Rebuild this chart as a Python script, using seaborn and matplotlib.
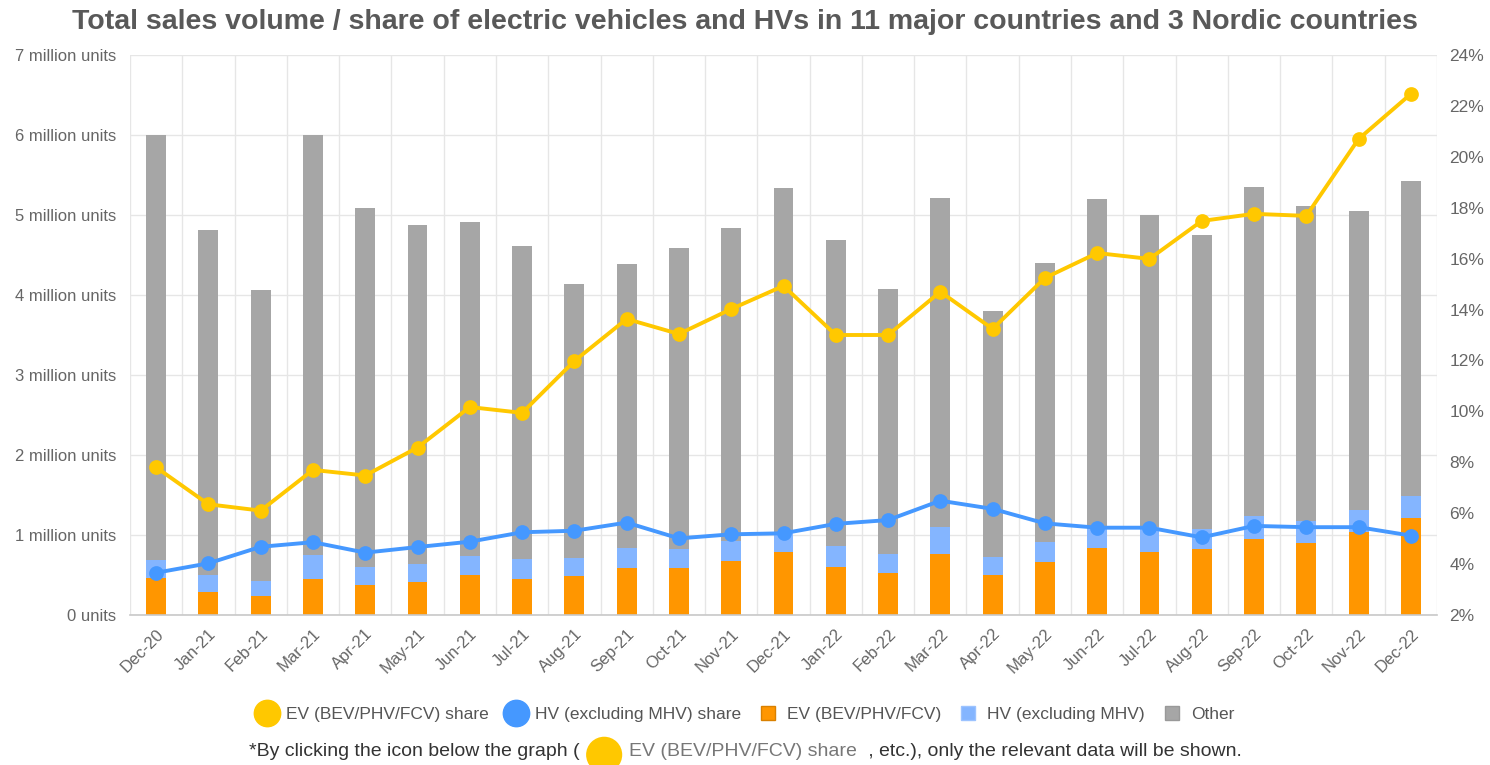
import numpy as np
import pandas as pd
import matplotlib
matplotlib.use("Agg")
import matplotlib.pyplot as plt
import seaborn as sns
from matplotlib.lines import Line2D
from matplotlib.offsetbox import TextArea, DrawingArea, HPacker, AnchoredOffsetbox
from matplotlib.patches import Circle

# ---------------- data ----------------
months = ["Dec-20", "Jan-21", "Feb-21", "Mar-21", "Apr-21", "May-21", "Jun-21",
          "Jul-21", "Aug-21", "Sep-21", "Oct-21", "Nov-21", "Dec-21", "Jan-22",
          "Feb-22", "Mar-22", "Apr-22", "May-22", "Jun-22", "Jul-22", "Aug-22",
          "Sep-22", "Oct-22", "Nov-22", "Dec-22"]
# million units
ev_units = [0.46, 0.29, 0.24, 0.45, 0.375, 0.41, 0.50, 0.45, 0.49, 0.59, 0.59, 0.67, 0.79,
            0.60, 0.52, 0.76, 0.50, 0.66, 0.84, 0.79, 0.82, 0.95, 0.90, 1.04, 1.21]
hv_units = [0.23, 0.21, 0.19, 0.30, 0.225, 0.23, 0.24, 0.25, 0.22, 0.25, 0.23, 0.25, 0.25,
            0.26, 0.24, 0.34, 0.23, 0.25, 0.24, 0.31, 0.25, 0.29, 0.27, 0.27, 0.28]
other_units = [5.31, 4.31, 3.63, 5.25, 4.49, 4.24, 4.17, 3.91, 3.43, 3.55, 3.77, 3.92, 4.30,
               3.83, 3.32, 4.11, 3.07, 3.49, 4.12, 3.90, 3.68, 4.11, 3.94, 3.74, 3.94]
# percent
ev_share = [7.8, 6.35, 6.1, 7.7, 7.48, 8.58, 10.17, 9.94, 11.98, 13.63, 13.04, 14.02, 14.93,
            13.0, 13.0, 14.7, 13.24, 15.24, 16.22, 15.99, 17.48, 17.76, 17.68, 20.7, 22.47]
hv_share = [3.66, 4.03, 4.68, 4.86, 4.45, 4.67, 4.88, 5.25, 5.31, 5.63, 5.01, 5.17, 5.21,
            5.58, 5.73, 6.49, 6.17, 5.6, 5.43, 5.43, 5.05, 5.5, 5.45, 5.45, 5.12]

left_ticks = [0, 1, 2, 3, 4, 5, 6, 7]
left_tick_labels = ["0 units", "1 million units", "2 million units", "3 million units",
                    "4 million units", "5 million units", "6 million units", "7 million units"]
right_ticks = [2, 4, 6, 8, 10, 12, 14, 16, 18, 20, 22, 24]
right_tick_labels = [f"{v}%" for v in right_ticks]

title = "Total sales volume / share of electric vehicles and HVs in 11 major countries and 3 Nordic countries"
legend_labels = ["EV (BEV/PHV/FCV) share", "HV (excluding MHV) share", "EV (BEV/PHV/FCV)",
                 "HV (excluding MHV)", "Other"]

# ---------------- style ----------------
ORANGE = "#FF9600"
LBLUE = "#84B5FF"
GREY = "#A6A6A6"
YELLOW = "#FFC800"
BLUE = "#4598FF"
TXT = "#666666"

sns.set_theme(style="white")
plt.rcParams['font.family'] = ['Liberation Sans', 'DejaVu Sans']

fig = plt.figure(figsize=(14.9, 7.65), dpi=100)
ax = fig.add_axes([130 / 1490, 1 - 615 / 765, (1437 - 130) / 1490, (615 - 55) / 765])

df = pd.DataFrame({"month": months, "ev": ev_units, "hv": hv_units, "other": other_units})
df["ev_hv"] = df["ev"] + df["hv"]
df["total"] = df["ev_hv"] + df["other"]

bar_kw = dict(x="month", width=0.38, saturation=1, errorbar=None, linewidth=0, ax=ax, order=months)
sns.barplot(data=df, y="total", color=GREY, **bar_kw)
sns.barplot(data=df, y="ev_hv", color=LBLUE, **bar_kw)
sns.barplot(data=df, y="ev", color=ORANGE, **bar_kw)

ax2 = ax.twinx()
sns.pointplot(x=months, y=ev_share, color=YELLOW, ax=ax2, errorbar=None,
              markersize=8.5, linewidth=2.8, order=months)
sns.pointplot(x=months, y=hv_share, color=BLUE, ax=ax2, errorbar=None,
              markersize=8.5, linewidth=2.8, order=months)

# axes formatting
ax.set_xlim(-0.5, len(months) - 0.5)
ax.set_ylim(0, 7)
ax.set_yticks(left_ticks)
ax.set_yticklabels(left_tick_labels)
ax.set_xticks(range(len(months)))
ax.set_xticklabels(months, rotation=45, ha="right", rotation_mode="anchor")
ax.set_xticks(np.arange(-0.5, len(months), 1), minor=True)
ax.set_xlabel("")
ax.set_ylabel("")
ax.tick_params(axis="both", which="both", length=0, colors=TXT, labelsize=12)
ax.tick_params(axis="y", pad=10)
ax.tick_params(axis="x", pad=8)
ax.grid(True, axis="y", which="major", color="#E6E6E6", linewidth=1)
ax.grid(True, axis="x", which="minor", color="#E6E6E6", linewidth=1)
ax.grid(False, axis="x", which="major")
ax.set_axisbelow(True)
for s in ["top", "left", "right"]:
    ax.spines[s].set_visible(False)
ax.spines["bottom"].set_color("#C8C8C8")
ax.spines["bottom"].set_linewidth(1.2)

ax2.set_ylim(2, 24)
ax2.set_yticks(right_ticks)
ax2.set_yticklabels(right_tick_labels)
ax2.set_ylabel("")
ax2.set_xlabel("")
ax2.grid(False)
ax2.tick_params(axis="y", length=0, colors=TXT, labelsize=12.5, pad=9)
for s in ax2.spines.values():
    s.set_visible(False)
ax.set_xlim(-0.5, len(months) - 0.5)

# title
fig.text(0.5, 1 - 22 / 765, title, ha="center", va="center", fontsize=20.5,
         fontweight="bold", color="#595959")

# legend
handles = [
    Line2D([], [], marker="o", linestyle="none", markersize=19, markerfacecolor=YELLOW, markeredgecolor=YELLOW),
    Line2D([], [], marker="o", linestyle="none", markersize=19, markerfacecolor=BLUE, markeredgecolor=BLUE),
    Line2D([], [], marker="s", linestyle="none", markersize=10.5, markerfacecolor=ORANGE, markeredgecolor="#D98000"),
    Line2D([], [], marker="s", linestyle="none", markersize=10.5, markerfacecolor=LBLUE, markeredgecolor="#9CC3FF"),
    Line2D([], [], marker="s", linestyle="none", markersize=10.5, markerfacecolor=GREY, markeredgecolor="#999999"),
]
fig.legend(handles, legend_labels, loc="center", bbox_to_anchor=(0.5, 1 - 714 / 765), ncol=5,
           frameon=False, fontsize=12.5, labelcolor="#555555", handlelength=1.3,
           handletextpad=0.45, columnspacing=0.9)

# note line with inline marker
da = DrawingArea(28, 14, 0, 0)
da.add_artist(Circle((14, 5), 13, facecolor=YELLOW, edgecolor="none"))
note = HPacker(children=[
    TextArea("*By clicking the icon below the graph (", textprops=dict(fontsize=14, color="#333333")),
    da,
    TextArea("EV (BEV/PHV/FCV) share", textprops=dict(fontsize=14, color="#777777")),
    TextArea(" , etc.), only the relevant data will be shown.", textprops=dict(fontsize=14, color="#333333")),
], align="center", pad=0, sep=4)
ab = AnchoredOffsetbox(loc="center", child=note, frameon=False,
                       bbox_to_anchor=(0.5, 1 - 752 / 765), bbox_transform=fig.transFigure, pad=0)
fig.add_artist(ab)

fig.savefig("out.png", dpi=100)
